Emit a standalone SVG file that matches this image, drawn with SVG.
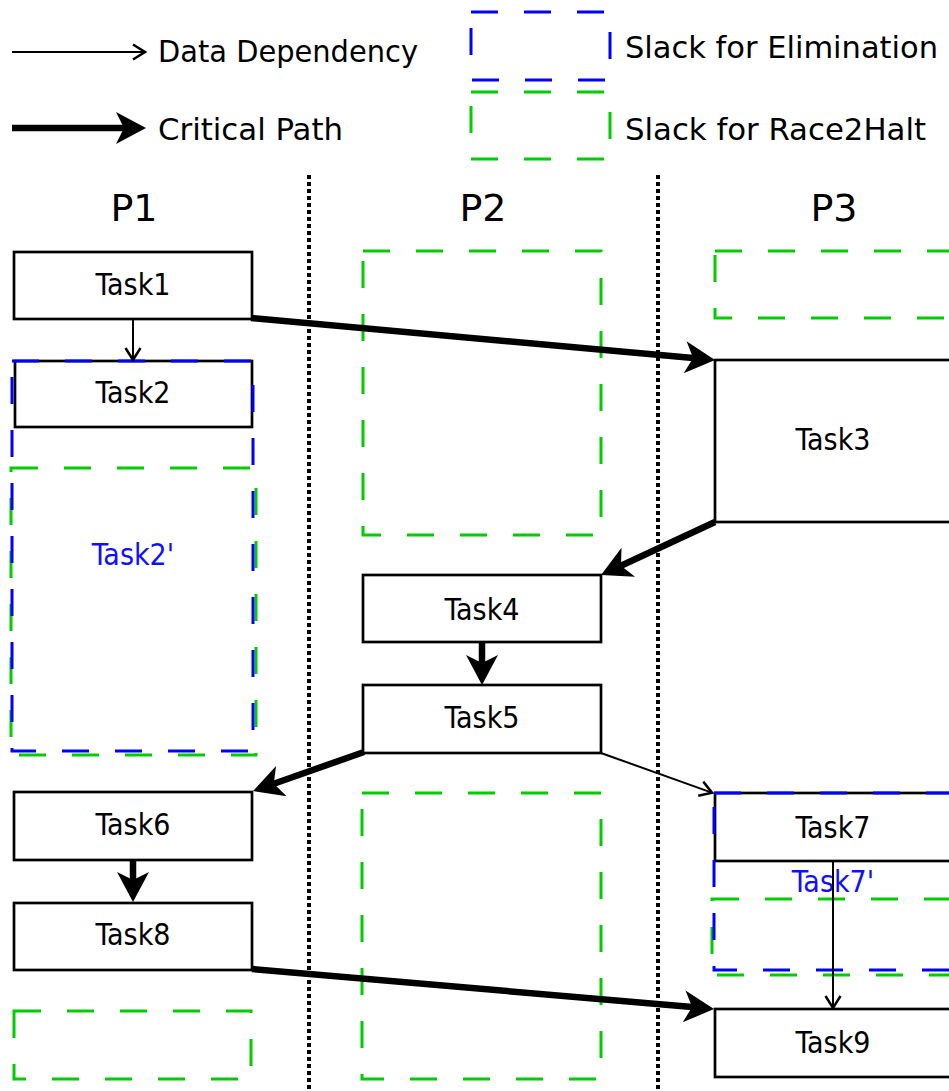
<svg xmlns="http://www.w3.org/2000/svg" width="949" height="1091" viewBox="0 0 949 1091">
<style>
.task{fill:#fff;stroke:#000;stroke-width:2.7}
.lbl{font-family:"DejaVu Sans Condensed","DejaVu Sans",sans-serif;font-stretch:condensed;font-size:30px;text-anchor:middle;fill:#000}
.blbl{font-family:"DejaVu Sans Condensed","DejaVu Sans",sans-serif;font-stretch:condensed;font-size:30px;text-anchor:middle;fill:#1010ff}
.leg{font-family:"DejaVu Sans Condensed","DejaVu Sans",sans-serif;font-stretch:condensed;font-size:31px;fill:#000}
.plbl{font-family:"DejaVu Sans",sans-serif;font-size:38px;text-anchor:middle;fill:#000}
.green{fill:none;stroke:#00cc00;stroke-width:3;stroke-dasharray:27,26}
.blue{fill:none;stroke:#0000ff;stroke-width:3;stroke-dasharray:27,26}
.dot{stroke:#000;stroke-width:4;stroke-dasharray:4,3}
.thin{fill:none;stroke:#000;stroke-width:2;marker-end:url(#thinHead)}
.thick{fill:none;stroke:#000;stroke-width:6.5;marker-end:url(#thickHead)}
</style>
<defs>
<marker id="thinHead" markerUnits="userSpaceOnUse" viewBox="-16 -10 20 20" markerWidth="20" markerHeight="20" refX="0" refY="0" orient="auto">
<path d="M-11,-7.5 L1,0 L-11,7.5" fill="none" stroke="#000" stroke-width="2.5"/>
</marker>
<marker id="thickHead" markerUnits="userSpaceOnUse" viewBox="-10 -18 34 36" markerWidth="34" markerHeight="36" refX="0" refY="0" orient="auto">
<path d="M22,0 L-8,-16 L0,0 L-8,16 Z" fill="#000"/>
</marker>
</defs>
<rect width="949" height="1091" fill="#fff"/>

<g id="legend">
<path class="thin" d="M12,52 L144,52"/>
<text class="leg" x="158" y="62" textLength="260" lengthAdjust="spacingAndGlyphs">Data Dependency</text>
<path class="thick" d="M12,128 L124,128"/>
<text class="leg" x="158" y="140" textLength="185" lengthAdjust="spacingAndGlyphs">Critical Path</text>
<rect class="blue" x="471" y="12" width="139" height="68"/>
<text class="leg" x="625" y="58" textLength="313" lengthAdjust="spacingAndGlyphs">Slack for Elimination</text>
<rect class="green" x="471" y="92" width="139" height="67"/>
<text class="leg" x="625" y="140" textLength="301" lengthAdjust="spacingAndGlyphs">Slack for Race2Halt</text>
</g>

<g id="lanes">
<line class="dot" x1="309" y1="175" x2="309" y2="1091"/>
<line class="dot" x1="658" y1="175" x2="658" y2="1091"/>
<text class="plbl" x="134" y="221">P1</text>
<text class="plbl" x="483" y="221">P2</text>
<text class="plbl" x="834" y="221">P3</text>
</g>

<g id="slack">
<rect class="green" x="363" y="251" width="238" height="284"/>
<rect class="green" x="715" y="251" width="240" height="67"/>
<rect class="green" x="11" y="468" width="245" height="287"/>
<rect class="green" x="362" y="793" width="239" height="286"/>
<rect class="green" x="14" y="1011" width="237" height="68"/>
<rect class="green" x="712" y="899" width="243" height="76"/>
</g>

<g id="task1"><rect class="task" x="14" y="252" width="238" height="67"/><text class="lbl" x="133" y="295">Task1</text></g>
<g id="task2"><rect class="task" x="15" y="361" width="237" height="66"/><text class="lbl" x="133" y="403">Task2</text></g>
<g id="task2p"><rect class="blue" x="12" y="361" width="241" height="390"/><text class="blbl" x="133" y="565">Task2'</text></g>
<g id="task3"><rect class="task" x="715" y="360" width="240" height="162"/><text class="lbl" x="833" y="450">Task3</text></g>
<g id="task4"><rect class="task" x="363" y="575" width="238" height="67"/><text class="lbl" x="482" y="620">Task4</text></g>
<g id="task5"><rect class="task" x="363" y="685" width="238" height="68"/><text class="lbl" x="482" y="728">Task5</text></g>
<g id="task6"><rect class="task" x="14" y="792" width="238" height="68"/><text class="lbl" x="133" y="835">Task6</text></g>
<g id="task7"><rect class="task" x="715" y="793" width="240" height="68"/><text class="lbl" x="833" y="838">Task7</text></g>
<g id="task7p"><rect class="blue" x="714" y="793" width="241" height="177"/><text class="blbl" x="833" y="892">Task7'</text></g>
<g id="task8"><rect class="task" x="14" y="903" width="238" height="67"/><text class="lbl" x="133" y="945">Task8</text></g>
<g id="task9"><rect class="task" x="715" y="1009" width="240" height="68"/><text class="lbl" x="833" y="1053">Task9</text></g>

<g id="connectors">
<path class="thin" d="M133,319 L133,359"/>
<path class="thick" d="M251,318 L693.1,358"/>
<path class="thick" d="M715,522 L621,565.7"/>
<path class="thick" d="M482,642 L482,663"/>
<path class="thick" d="M364,752 L273.8,783.7"/>
<path class="thin" d="M601,753 L711.1,792.4"/>
<path class="thick" d="M133,860 L133,880"/>
<path class="thin" d="M833,861 L833,1007"/>
<path class="thick" d="M252,969 L692.1,1007.1"/>
</g>
</svg>
